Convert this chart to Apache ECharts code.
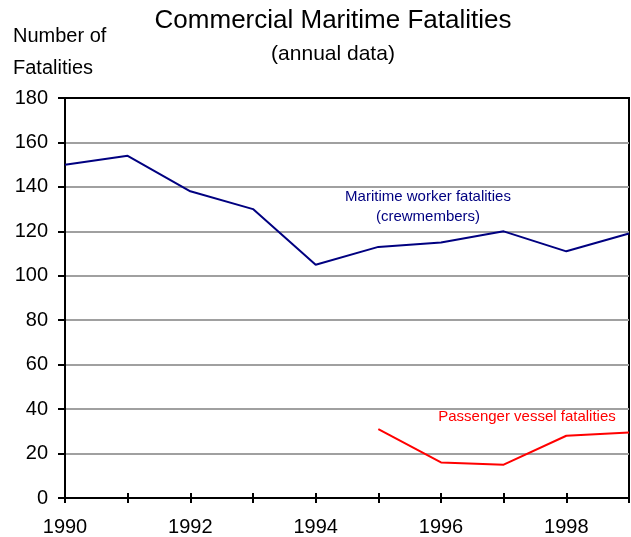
<!DOCTYPE html>
<html>
<head>
<meta charset="utf-8">
<script src="https://cdn.jsdelivr.net/npm/echarts@6/dist/echarts.min.js"></script>
<style>
html,body{margin:0;padding:0;background:#fff;}
#chart{width:631px;height:537px;}
</style>
</head>
<body>
<div id="chart"></div>
<script>
const years = ['1990','1991','1992','1993','1994','1995','1996','1997','1998','1999'];
const workerFatalities = [150, 154, 138, 130, 105, 113, 115, 120, 111, 119];
const passengerFatalities = [null, null, null, null, null, 31, 16, 15, 28, 29.5];
const yTicks = {min: 0, max: 180, interval: 20};
const titleText = 'Commercial Maritime Fatalities';
const subtitleText = '(annual data)';
const yNameLines = ['Number of', 'Fatalities'];
const workerLabel = ['Maritime worker fatalities', '(crewmembers)'];
const passengerLabel = 'Passenger vessel fatalities';

const FONT = '"Liberation Sans", Arial, sans-serif';
const chart = echarts.init(document.getElementById('chart'));

const txt = (text, x, y, size, color, align) => ({
  type: 'text', x: x, y: y, silent: true,
  style: {text: text, font: size + 'px ' + FONT, fill: color, align: align || 'center', verticalAlign: 'top'}
});

chart.setOption({
  animation: false,
  backgroundColor: '#fff',
  grid: {left: 65, right: 2, top: 98, bottom: 39, containLabel: false,
         show: true, borderColor: '#000', borderWidth: 2, backgroundColor: 'transparent'},
  xAxis: [{
    type: 'category', data: years, boundaryGap: false,
    axisLine: {lineStyle: {color: '#000', width: 2}},
    axisTick: {show: true, inside: false, length: 5, interval: 0, lineStyle: {color: '#000', width: 2}},
    axisLabel: {interval: 1, margin: 19, color: '#000', fontSize: 20, fontFamily: FONT},
    splitLine: {show: false}
  }, {
    type: 'category', data: years, boundaryGap: false, position: 'bottom',
    axisLine: {show: false},
    axisTick: {show: true, inside: true, length: 5, interval: 0, lineStyle: {color: '#000', width: 2}},
    axisLabel: {show: false},
    splitLine: {show: false}
  }],
  yAxis: {
    type: 'value', min: yTicks.min, max: yTicks.max, interval: yTicks.interval,
    axisLine: {show: true, lineStyle: {color: '#000', width: 2}},
    axisTick: {show: true, length: 7, lineStyle: {color: '#000', width: 2}},
    axisLabel: {margin: 17, color: '#000', fontSize: 20, fontFamily: FONT},
    splitLine: {show: true, lineStyle: {color: '#a0a0a0', width: 2}}
  },
  series: [{
    name: 'Maritime worker fatalities', type: 'line', data: workerFatalities,
    showSymbol: false, symbol: 'none', silent: true,
    lineStyle: {color: '#000080', width: 2},
    z: 5,
    markLine: {
      silent: true, symbol: 'none', label: {show: false},
      lineStyle: {color: '#000', width: 2, type: 'solid'},
      data: [{yAxis: yTicks.max}]
    }
  }, {
    name: 'Passenger vessel fatalities', type: 'line', data: passengerFatalities,
    showSymbol: false, symbol: 'none', silent: true, connectNulls: false,
    lineStyle: {color: '#ff0000', width: 2},
    z: 5
  }],
  graphic: [
    txt(titleText, 333, 8, 26, '#000'),
    txt(subtitleText, 333, 44, 21, '#000'),
    txt(yNameLines[0], 13, 26, 20, '#000', 'left'),
    txt(yNameLines[1], 13, 58, 20, '#000', 'left'),
    txt(workerLabel[0], 428, 189, 15, '#000080'),
    txt(workerLabel[1], 428, 209, 15, '#000080'),
    txt(passengerLabel, 527, 409, 15, '#ff0000')
  ]
});
</script>
</body>
</html>
